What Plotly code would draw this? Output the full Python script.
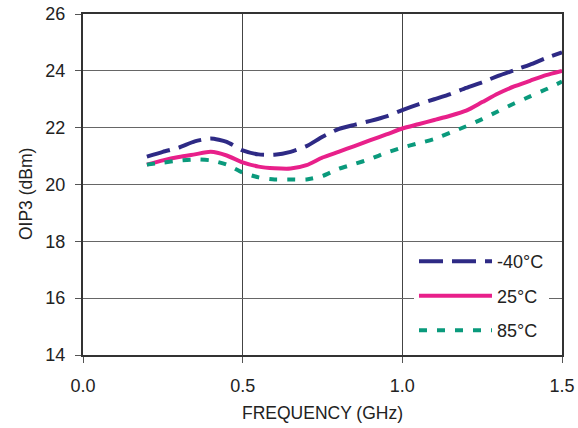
import plotly.graph_objects as go

freq_ghz = [0.20, 0.25, 0.30, 0.35, 0.40, 0.45, 0.50, 0.55, 0.60, 0.65, 0.70, 0.75, 0.80,
            0.85, 0.90, 0.95, 1.00, 1.05, 1.10, 1.15, 1.20, 1.25, 1.30, 1.35, 1.40, 1.45, 1.50]

oip3_m40 = [20.98, 21.15, 21.30, 21.52, 21.62, 21.50, 21.20, 21.06, 21.05, 21.15, 21.35, 21.68, 21.95,
            22.10, 22.24, 22.40, 22.62, 22.82, 23.00, 23.18, 23.40, 23.60, 23.82, 24.02, 24.22, 24.45, 24.65]
oip3_25 = [20.70, 20.85, 20.97, 21.06, 21.15, 21.02, 20.78, 20.63, 20.57, 20.56, 20.68, 20.95, 21.15,
           21.35, 21.56, 21.76, 21.97, 22.12, 22.27, 22.42, 22.60, 22.90, 23.20, 23.45, 23.65, 23.85, 24.00]
oip3_85 = [20.70, 20.77, 20.84, 20.88, 20.85, 20.70, 20.42, 20.25, 20.18, 20.18, 20.18, 20.30, 20.55,
           20.72, 20.90, 21.12, 21.30, 21.45, 21.60, 21.82, 22.05, 22.30, 22.58, 22.85, 23.10, 23.35, 23.62]

series_names = ["-40°C", "25°C", "85°C"]
x_ticks = [0.0, 0.5, 1.0, 1.5]
x_tick_labels = ["0.0", "0.5", "1.0", "1.5"]
y_ticks = [14, 16, 18, 20, 22, 24, 26]

styles = [
    dict(color="#2E2A85", dash="24px,9px"),
    dict(color="#E8208A", dash="solid"),
    dict(color="#0A9A7C", dash="8px,10px"),
]

fig = go.Figure()
for name, ys, st, grp in zip(series_names, [oip3_m40, oip3_25, oip3_85], styles, ["a", "b", "c"]):
    fig.add_trace(go.Scatter(
        x=freq_ghz, y=ys, mode="lines", name=name, legendgroup=grp,
        line=dict(color=st["color"], width=4, dash=st["dash"], shape="spline", smoothing=0.6),
    ))

font_family = "Liberation Sans, Arial, sans-serif"
fig.update_layout(
    width=578, height=428,
    margin=dict(l=83, r=16, t=14, b=73),
    paper_bgcolor="white", plot_bgcolor="white",
    font=dict(family=font_family, size=18, color="#222222"),
    showlegend=True,
    legend=dict(
        x=0.691, y=0.328, xanchor="left", yanchor="top",
        bgcolor="white", borderwidth=0,
        font=dict(size=18, color="#222222"),
        traceorder="grouped", tracegroupgap=8, itemwidth=73,
    ),
    annotations=[dict(
        text="OIP3 (dBm)", textangle=-90, showarrow=False,
        xref="paper", yref="paper", x=-0.119, y=0.472,
        xanchor="center", yanchor="middle",
        font=dict(size=17.5, color="#222222"),
    )],
)
fig.update_xaxes(
    range=[0, 1.5], tickvals=x_ticks, ticktext=x_tick_labels,
    showgrid=True, gridcolor="#444444", gridwidth=1,
    showline=True, linecolor="#333333", linewidth=2, mirror=True,
    ticks="outside", ticklen=6, tickcolor="#555555",
    ticklabelstandoff=7,
    title=dict(text="FREQUENCY (GHz)", standoff=12, font=dict(size=17.5)),
    zeroline=False, automargin=False,
)
fig.update_yaxes(
    range=[14, 26], tickvals=y_ticks,
    showgrid=True, gridcolor="#666666", gridwidth=1,
    showline=True, linecolor="#333333", linewidth=2, mirror=True,
    ticks="outside", ticklen=6, tickcolor="#555555",
    ticklabelstandoff=6,
    zeroline=False, automargin=False,
)

fig.write_html("out.html", config={"displayModeBar": False},
               post_script="document.body.style.margin='0';")
